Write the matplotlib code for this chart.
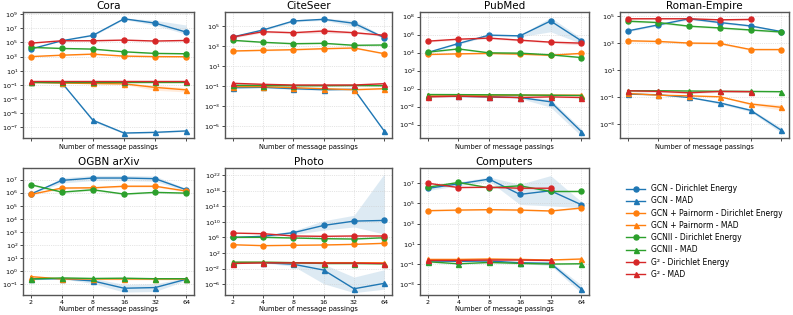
import numpy as np
import matplotlib
matplotlib.use("Agg")
import matplotlib.pyplot as plt
from matplotlib.ticker import FixedLocator, NullLocator

# message passings
layers = [2, 4, 8, 16, 32, 64]

methods = ["GCN", "GCN + Pairnorm", "GCNII", "G\u00b2"]
colors = ["tab:blue", "tab:orange", "tab:green", "tab:red"]

nan = np.nan

# log10 values: (Dirichlet energy, MAD) per method
cora_de = [[4.06, 5.24, 6.0, 8.34, 7.73, 6.46],
           [3.0, 3.2, 3.35, 3.07, 3.0, 2.98],
           [4.3, 4.15, 4.06, 3.68, 3.45, 3.4],
           [4.9, 5.24, 5.24, 5.33, 5.2, 5.28]]
cora_mad = [[-0.6, -0.7, -6.0, -7.8, -7.7, -7.5],
            [-0.65, -0.74, -0.8, -0.85, -1.35, -1.7],
            [-0.55, -0.55, -0.55, -0.55, -0.55, -0.55],
            [-0.5, -0.5, -0.5, -0.5, -0.5, -0.5]]

citeseer_de = [[3.9, 4.6, 5.5, 5.67, 5.27, 3.83],
               [2.5, 2.57, 2.63, 2.73, 2.8, 2.23],
               [3.57, 3.37, 3.23, 3.27, 3.07, 3.1],
               [3.9, 4.43, 4.33, 4.5, 4.33, 4.07]]
citeseer_mad = [[-1.17, -1.13, -1.27, -1.37, -1.33, -5.53],
                [-1.07, -1.07, -1.17, -1.27, -1.37, -1.27],
                [-0.93, -0.95, -0.97, -0.97, -0.95, -0.97],
                [-0.73, -0.83, -0.9, -0.9, -0.9, -0.77]]

pubmed_de = [[4.0, 5.0, 5.93, 5.85, 7.5, 5.3],
             [3.78, 3.85, 3.9, 3.82, 3.7, 3.9],
             [4.04, 4.4, 3.96, 3.93, 3.74, 3.44],
             [5.26, 5.48, 5.6, 5.37, 5.15, 5.04]]
pubmed_mad = [[-0.88, -0.88, -0.93, -1.0, -1.48, -4.78],
              [-0.72, -0.72, -0.74, -0.74, -0.74, -0.74],
              [-0.67, -0.68, -0.7, -0.72, -0.75, -0.78],
              [-0.93, -0.85, -0.93, -1.0, -0.93, -1.0]]

roman_de = [[3.93, 4.38, 4.83, 4.55, 4.3, 3.88],
            [3.2, 3.15, 3.03, 3.0, 2.55, 2.55],
            [4.65, 4.55, 4.28, 4.15, 4.0, 3.85],
            [4.83, 4.83, 4.83, 4.75, 4.78, nan]]
roman_mad = [[-0.75, -0.8, -1.0, -1.4, -1.95, -3.43],
             [-0.7, -0.83, -0.88, -0.95, -1.48, -1.73],
             [-0.5, -0.5, -0.52, -0.54, -0.55, -0.57],
             [-0.5, -0.55, -0.65, -0.55, -0.57, nan]]

arxiv_de = [[5.9, 6.95, 7.13, 7.13, 7.08, 6.23],
            [5.87, 6.36, 6.38, 6.5, 6.5, 6.13],
            [6.62, 6.05, 6.23, 5.9, 6.03, 5.97],
            [nan, nan, nan, nan, nan, nan]]
arxiv_mad = [[-0.62, -0.6, -0.77, -1.33, -1.28, -0.64],
             [-0.44, -0.62, -0.62, -0.62, -0.62, -0.62],
             [-0.62, -0.54, -0.58, -0.56, -0.6, -0.6],
             [nan, nan, nan, nan, nan, nan]]

photo_de = [[6.0, 6.26, 7.2, 9.06, 10.17, 10.34],
            [4.1, 3.87, 3.96, 4.04, 4.2, 4.47],
            [6.0, 6.0, 5.83, 5.66, 5.57, 5.9],
            [7.1, 6.94, 6.35, 6.26, 6.35, 6.35]]
photo_mad = [[-0.5, -0.5, -0.9, -2.4, -7.2, -5.8],
             [-0.45, -0.45, -0.5, -0.5, -0.5, -0.55],
             [-0.38, -0.38, -0.5, -0.72, -0.72, -0.8],
             [-0.72, -0.55, -0.55, -0.62, -0.62, -0.72]]

computers_de = [[6.48, 6.93, 7.4, 5.89, 6.25, 4.87],
                [4.28, 4.34, 4.38, 4.34, 4.25, 4.54],
                [6.6, 7.07, 6.54, 6.74, 6.18, 6.18],
                [7.0, 6.57, 6.6, 6.5, 6.5, nan]]
computers_mad = [[-0.7, -0.73, -0.7, -0.87, -0.93, -3.46],
                 [-0.54, -0.54, -0.5, -0.54, -0.6, -0.5],
                 [-0.77, -0.97, -0.84, -0.93, -1.0, -0.97],
                 [-0.64, -0.64, -0.6, -0.6, -0.64, nan]]

# visible spread bands (decades below, decades above) for (method index, metric)
cora_bands = {(0, "de"): ([0, 0, 0.1, 0.1, 0.3, 0.3], [0, 0, 0.1, 0.1, 0.4, 1.0]),
              (0, "mad"): ([0, 0, 0.2, 0.1, 0.1, 0.1], [0, 0, 0.2, 0.1, 0.1, 0.1]),
              (1, "mad"): ([0, 0, 0.05, 0.1, 0.4, 0.3], [0, 0, 0.05, 0.1, 0.3, 0.3])}
citeseer_bands = {(0, "de"): ([0.1, 0.1, 0.1, 0.1, 0.3, 0.1], [0.1, 0.1, 0.1, 0.1, 0.3, 0.1]),
                  (3, "de"): ([0.1, 0.1, 0.1, 0.2, 0.1, 0.1], [0.1, 0.1, 0.1, 0.2, 0.1, 0.1])}
pubmed_bands = {(0, "de"): ([0, 0.1, 0.1, 0.1, 1.2, 0.3], [0, 0.1, 0.1, 0.1, 0.4, 0.3]),
                (0, "mad"): ([0, 0, 0, 0.1, 0.6, 0.5], [0, 0, 0, 0.1, 0.3, 0.3]),
                (3, "de"): ([0.1, 0.1, 0.1, 0.1, 0.1, 0.2], [0.1, 0.1, 0.1, 0.1, 0.1, 0.2])}
roman_bands = {(1, "mad"): ([0, 0, 0, 0, 0.1, 0.2], [0, 0, 0, 0, 0.1, 0.2]),
               (0, "mad"): ([0, 0, 0, 0.1, 0.1, 0.2], [0, 0, 0, 0.1, 0.1, 0.2])}
arxiv_bands = {(0, "de"): ([0, 0.2, 0.2, 0.2, 0.2, 0.1], [0, 0.2, 0.2, 0.2, 0.2, 0.1]),
               (0, "mad"): ([0, 0, 0.2, 0.3, 0.3, 0.1], [0, 0, 0.2, 0.3, 0.3, 0.1])}
photo_bands = {(0, "de"): ([0.2, 0.3, 0.5, 1.2, 1.5, 3.5], [0.2, 0.3, 0.5, 1.2, 1.5, 12.0]),
               (0, "mad"): ([0, 0.1, 0.5, 3.5, 1.0, 1.5], [0, 0.1, 0.5, 1.5, 3.0, 3.5])}
computers_bands = {(0, "de"): ([0.2, 0.2, 0.2, 1.0, 1.5, 0.3], [0.2, 0.2, 0.2, 1.0, 1.5, 0.3]),
                   (0, "mad"): ([0, 0, 0, 0.1, 0.2, 0.4], [0, 0, 0, 0.1, 0.2, 0.4])}

datasets = [
    ("Cora", cora_de, cora_mad, cora_bands, (-8.5, 9.3), [9, 7, 5, 3, 1, -1, -3, -5, -7]),
    ("CiteSeer", citeseer_de, citeseer_mad, citeseer_bands, (-6.2, 6.4), [5, 3, 1, -1, -3, -5]),
    ("PubMed", pubmed_de, pubmed_mad, pubmed_bands, (-5.5, 8.5), [8, 6, 4, 2, 0, -2, -4]),
    ("Roman-Empire", roman_de, roman_mad, roman_bands, (-4.0, 5.33), [5, 3, 1, -1, -3]),
    ("OGBN arXiv", arxiv_de, arxiv_mad, arxiv_bands, (-1.85, 7.9), [7, 6, 5, 4, 3, 2, 1, 0, -1]),
    ("Photo", photo_de, photo_mad, photo_bands, (-8.8, 23.8), [22, 18, 14, 10, 6, 2, -2, -6]),
    ("Computers", computers_de, computers_mad, computers_bands, (-4.06, 8.5), [7, 5, 3, 1, -1, -3]),
]

fig = plt.figure(figsize=(7.93, 3.15), dpi=100)
W, H = 793, 315
cols = [(23, 194), (225, 392), (420, 589), (620, 789)]
rows = [(12, 138), (168, 295)]


def ax_at(r, c):
    (x0, x1), (y0, y1) = cols[c], rows[r]
    return fig.add_axes([x0 / W, 1 - y1 / H, (x1 - x0) / W, (y1 - y0) / H])


handles = []
for i, (name, de, mad, bands, ylim, yt) in enumerate(datasets):
    r, c = divmod(i, 4)
    ax = ax_at(r, c)
    ax.set_xscale("log", base=2)
    ax.set_yscale("log")
    for m in range(4):
        for metric, vals, marker in (("de", de, "o"), ("mad", mad, "^")):
            y = 10 ** np.array(vals[m], dtype=float)
            line, = ax.plot(layers, y, marker=marker, color=colors[m], lw=1.0, ms=3.6,
                            label=f"{methods[m]} - {'Dirichlet Energy' if metric == 'de' else 'MAD'}")
            if i == 0:
                handles.append(line)
            if (m, metric) in bands:
                lo, hi = bands[(m, metric)]
                ax.fill_between(layers, y / 10 ** np.array(lo), y * 10 ** np.array(hi),
                                color=colors[m], alpha=0.15, lw=0)
            else:
                ax.fill_between(layers, y / 10 ** 0.07, y * 10 ** 0.07,
                                color=colors[m], alpha=0.15, lw=0)
    ax.set_ylim(10 ** ylim[0], 10 ** ylim[1])
    ax.yaxis.set_major_locator(FixedLocator([10.0 ** e for e in yt]))
    ax.yaxis.set_minor_locator(NullLocator())
    ax.xaxis.set_minor_locator(NullLocator())
    ax.set_xticks(layers)
    if r == 0:
        ax.set_xticklabels([])
    else:
        ax.set_xticklabels([str(l) for l in layers])
    ax.set_xlabel("Number of message passings", fontsize=4.8, labelpad=1)
    ax.tick_params(labelsize=4.6, length=2, width=0.5, pad=1.5)
    ax.set_title(name, fontsize=7.5, pad=2)
    ax.grid(True, color="#cccccc", lw=0.5, ls=":")
    for s in ax.spines.values():
        s.set_color("#555555")
        s.set_linewidth(1.0)

leg_ax = ax_at(1, 3)
leg_ax.axis("off")
leg_ax.legend(handles=handles, loc="center", frameon=False, fontsize=5.5,
              handlelength=2.4, labelspacing=0.42, bbox_to_anchor=(0.5, 0.5))

fig.savefig("out.png", dpi=100)
